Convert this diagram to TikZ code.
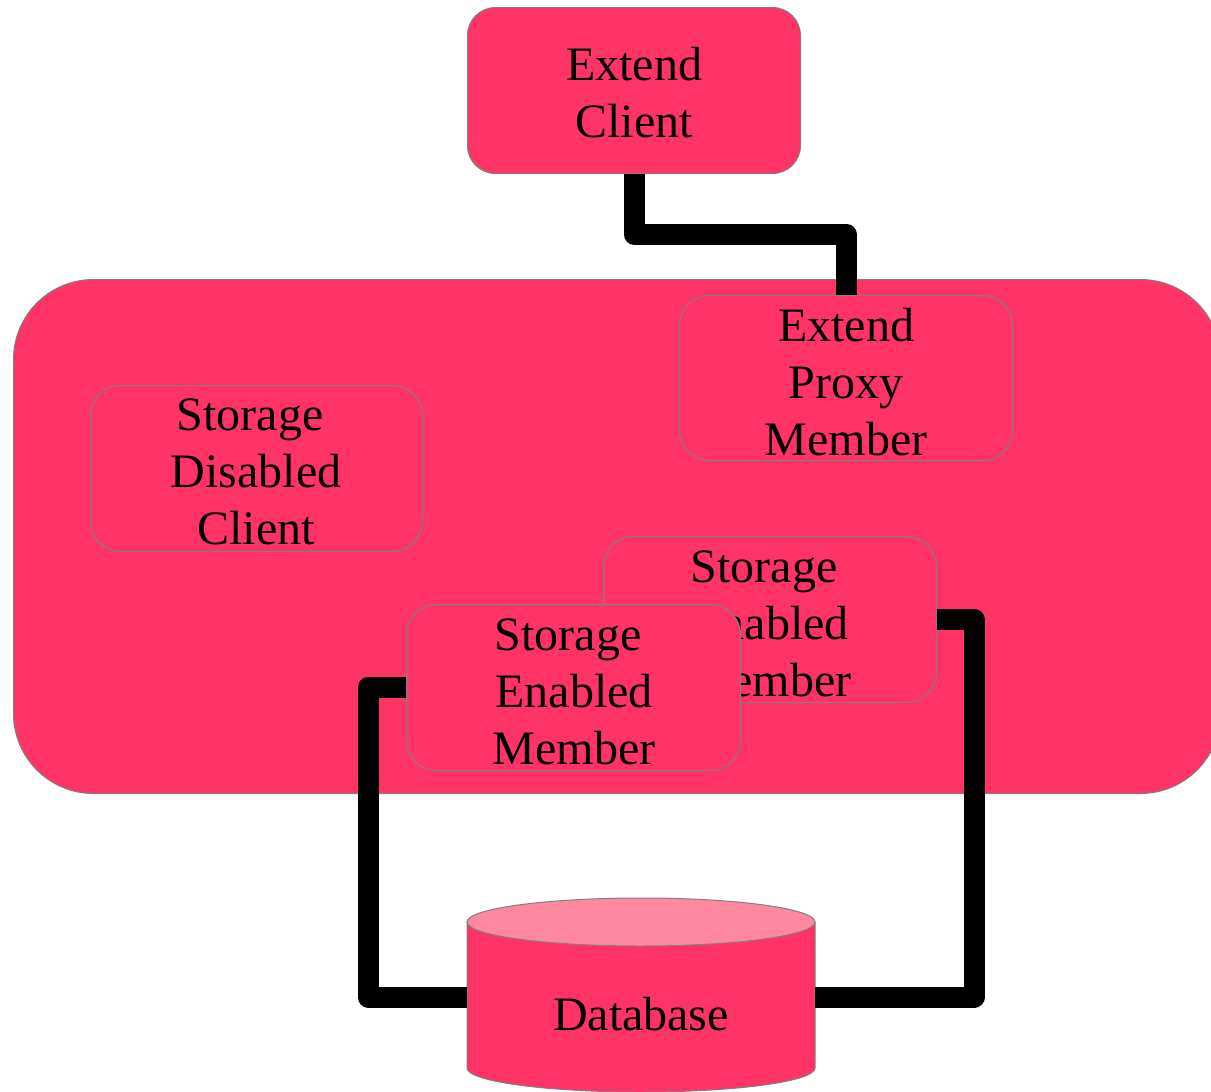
\documentclass[tikz,border=0pt]{standalone}
\usepackage{fontspec}
\setmainfont{Liberation Serif}
\definecolor{pinkA}{RGB}{255,51,102}
\definecolor{pinkB}{RGB}{255,135,160}
\definecolor{edgegrey}{RGB}{128,128,128}
\begin{document}
\begin{tikzpicture}[x=1pt,y=-1pt,
  box/.style={draw=edgegrey, line width=1pt, fill=pinkA, rounded corners=30pt, inner sep=0pt, anchor=north west},
  lbl/.style={font=\fontsize{48}{57}\selectfont, align=center, anchor=base, inner sep=0pt},
  wire/.style={line width=21pt, line join=round, draw=black}]
\clip (0,0) rectangle (1211,1092);
\fill[white] (0,0) rectangle (1211,1092);
% cluster
\node[box, rounded corners=80pt, minimum width=1207pt, minimum height=514pt] (cluster) at (13,279) {};
% extend client
\node[box, rounded corners=28pt, minimum width=333pt, minimum height=166pt] (ec) at (467,7) {};
\node[lbl] (ecT) at (634,137) {Extend\\Client};
% proxy
\node[box, minimum width=333pt, minimum height=165pt] (proxy) at (679,295) {};
\node[lbl] (proxyT) at (846,455) {Extend\\Proxy\\Member};
% storage disabled client
\node[box, minimum width=332pt, minimum height=166pt] (sdc) at (90,385) {};
\node[lbl] (sdcT) at (256,544) {Storage\hspace*{12pt}\\Disabled\\Client};
% storage enabled member (back)
\node[box, minimum width=333pt, minimum height=166pt] (sem2) at (603,536) {};
\node[lbl] (sem2T) at (770,696) {Storage\hspace*{12pt}\\Enabled\\Member};
% storage enabled member (front)
\node[box, minimum width=334pt, minimum height=166pt] (sem1) at (406,604) {};
\node[lbl] (sem1T) at (574,764) {Storage\hspace*{12pt}\\Enabled\\Member};
% database
\node[inner sep=0pt, minimum width=348pt, minimum height=100pt] (db) at (641,997) {};
\filldraw[fill=pinkA, draw=edgegrey, line width=1pt] (467,922) -- (467,1068)
  arc[start angle=180, end angle=0, x radius=174, y radius=24] -- (815,922) -- cycle;
\filldraw[fill=pinkB, draw=edgegrey, line width=1pt] (641,922) ellipse[x radius=174, y radius=24];
\node[lbl] (dbT) at (641,1030) {Database};
% connectors
\draw[wire] (ec.south) -- ++(0,60) -| (proxy.north);
\draw[wire] (sem1.west) -- ++(-38,0) |- (db.west);
\draw[wire] (sem2.east) -- ++(37,0) |- (db.east);
\end{tikzpicture}
\end{document}
